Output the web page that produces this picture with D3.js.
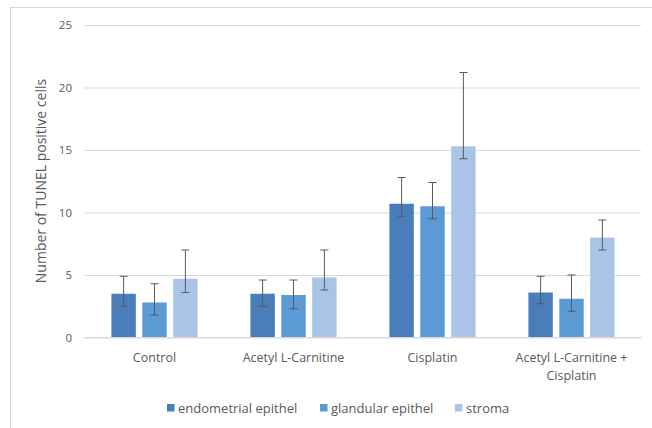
<!DOCTYPE html>
<html lang="en">

<head>
    <meta charset="UTF-8">
    <title>TUNEL positive cells</title>
    <style>
        * {
            margin: 0;
            padding: 0;
        }

        html,
        body {
            overflow: hidden;
            background: #fff;
        }
    </style>
</head>

<body>
    <div id="chart"></div>
    <script src="https://cdn.jsdelivr.net/npm/d3@7"></script>
    <script>
        // data
        const categories = ['Control', 'Acetyl L-Carnitine', 'Cisplatin', 'Acetyl L-Carnitine + Cisplatin']
        const series = ['endometrial epithel', 'glandular epithel', 'stroma']
        const endometrial = [3.5, 3.5, 10.7, 3.6]
        const glandular = [2.8, 3.4, 10.5, 3.1]
        const stroma = [4.7, 4.8, 15.3, 8.0]
        // error bar ends (upper / lower)
        const endometrialHigh = [4.9, 4.6, 12.8, 4.9]
        const endometrialLow = [2.5, 2.5, 9.7, 2.7]
        const glandularHigh = [4.3, 4.6, 12.4, 5.0]
        const glandularLow = [1.8, 2.3, 9.5, 2.1]
        const stromaHigh = [7.0, 7.0, 21.2, 9.4]
        const stromaLow = [3.6, 3.8, 14.3, 7.0]
        const yTicks = [0, 5, 10, 15, 20, 25]

        const colors = ['#4a7ebb', '#5b9bd5', '#a9c4e6']

        function drawChart() {
            const width = 652
            const height = 428
            const font = '"Open Sans", "Liberation Sans", sans-serif'

            const svg = d3.select('#chart')
                .append('svg')
                .attr('width', width)
                .attr('height', height)
                .style('font-family', font)

            // chart area frame
            svg.append('rect')
                .attr('x', 10.5)
                .attr('y', 7.5)
                .attr('width', 700)
                .attr('height', 500)
                .attr('fill', '#fff')
                .attr('stroke', '#d9d9d9')

            const rows = categories.map((c, i) => ({
                category: c,
                values: [
                    { s: 0, v: endometrial[i], hi: endometrialHigh[i], lo: endometrialLow[i] },
                    { s: 1, v: glandular[i], hi: glandularHigh[i], lo: glandularLow[i] },
                    { s: 2, v: stroma[i], hi: stromaHigh[i], lo: stromaLow[i] }
                ]
            }))

            const x0 = d3.scaleBand()
                .domain(categories)
                .range([85, 641])
                .paddingInner(0.38)
                .paddingOuter(0.19)

            const x1 = d3.scaleBand()
                .domain(d3.range(series.length))
                .range([0, x0.bandwidth()])
                .paddingInner(0.21)

            const y = d3.scaleLinear()
                .domain([0, 25])
                .range([337.5, 25])

            // gridlines
            const grid = svg.append('g')
                .attr('transform', 'translate(84,0)')
                .call(d3.axisLeft(y).tickValues(yTicks).tickSize(-557).tickFormat(''))
            grid.select('.domain').remove()
            grid.selectAll('line').attr('stroke', '#d9d9d9')

            // y tick labels
            const yAxis = svg.append('g')
                .attr('transform', 'translate(72,0)')
                .call(d3.axisLeft(y).tickValues(yTicks).tickSize(0).tickPadding(0))
            yAxis.select('.domain').remove()
            yAxis.selectAll('text')
                .attr('fill', '#595959')
                .attr('font-size', 11.5)
                .style('font-family', font)

            // bars
            const groups = svg.append('g')
                .selectAll('g')
                .data(rows)
                .join('g')
                .attr('transform', d => `translate(${x0(d.category)},0)`)

            groups.selectAll('rect')
                .data(d => d.values)
                .join('rect')
                .attr('x', d => x1(d.s))
                .attr('y', d => y(d.v))
                .attr('width', x1.bandwidth())
                .attr('height', d => y(0) - y(d.v))
                .attr('fill', d => colors[d.s])

            // error bars
            const capHalf = 4
            const err = groups.selectAll('g.err')
                .data(d => d.values)
                .join('g')
                .attr('class', 'err')
                .attr('transform', d => `translate(${x1(d.s) + x1.bandwidth() / 2},0)`)
                .attr('stroke', '#595959')
                .attr('stroke-width', 1)

            err.append('line')
                .attr('y1', d => y(d.hi))
                .attr('y2', d => y(d.lo))
            err.append('line')
                .attr('x1', -capHalf)
                .attr('x2', capHalf)
                .attr('y1', d => y(d.hi))
                .attr('y2', d => y(d.hi))
            err.append('line')
                .attr('x1', -capHalf)
                .attr('x2', capHalf)
                .attr('y1', d => y(d.lo))
                .attr('y2', d => y(d.lo))

            // x axis baseline
            svg.append('line')
                .attr('x1', 84)
                .attr('x2', 641)
                .attr('y1', y(0))
                .attr('y2', y(0))
                .attr('stroke', '#d9d9d9')

            // category labels (wrap the long one)
            const catLines = {
                'Acetyl L-Carnitine + Cisplatin': ['Acetyl L-Carnitine +', 'Cisplatin']
            }
            svg.append('g')
                .selectAll('text')
                .data(categories)
                .join('text')
                .attr('x', d => x0(d) + x0.bandwidth() / 2)
                .attr('y', 362)
                .attr('text-anchor', 'middle')
                .attr('fill', '#595959')
                .attr('font-size', 12.5)
                .selectAll('tspan')
                .data(d => catLines[d] || [d])
                .join('tspan')
                .attr('x', function () { return this.parentNode.getAttribute('x') })
                .attr('dy', (d, i) => i === 0 ? 0 : 17.5)
                .text(d => d)

            // y title
            svg.append('text')
                .attr('transform', 'translate(46,181) rotate(-90)')
                .attr('text-anchor', 'middle')
                .attr('fill', '#595959')
                .attr('font-size', 14)
                .text('Number of TUNEL positive cells')

            // legend
            const legendX = [167, 320, 455]
            const legend = svg.append('g')
                .selectAll('g')
                .data(series)
                .join('g')
                .attr('transform', (d, i) => `translate(${legendX[i]},408)`)

            legend.append('rect')
                .attr('y', -4)
                .attr('width', 7.5)
                .attr('height', 7.5)
                .attr('fill', (d, i) => colors[i])

            legend.append('text')
                .attr('x', 11)
                .attr('y', 4.5)
                .attr('fill', '#595959')
                .attr('font-size', 13)
                .text(d => d)
        }

        drawChart()
    </script>
</body>

</html>
